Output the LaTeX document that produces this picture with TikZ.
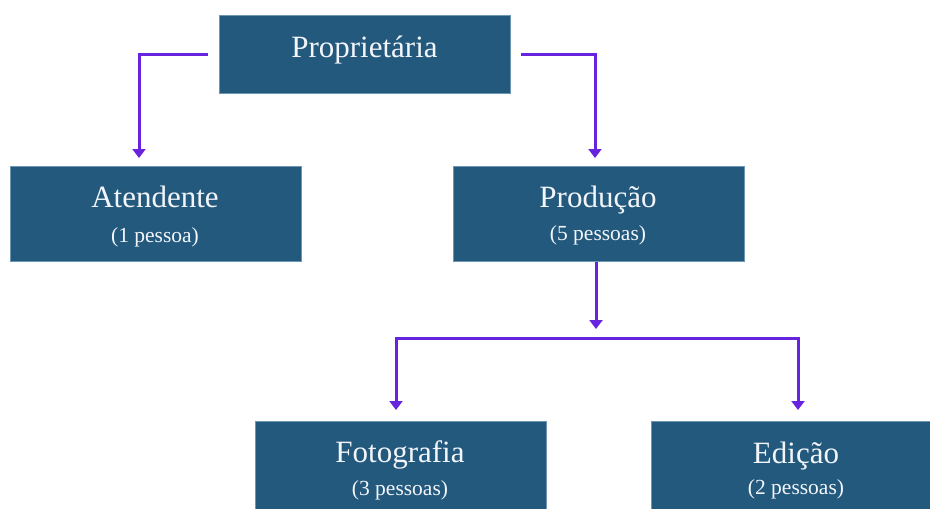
\documentclass[tikz,border=0pt]{standalone}
\usepackage{fontspec}
\setmainfont{Liberation Serif}
\usetikzlibrary{arrows.meta}
\definecolor{boxblue}{RGB}{36,89,126}
\definecolor{boxedge}{RGB}{110,150,178}
\definecolor{linkpurple}{RGB}{103,35,222}
\definecolor{labelwhite}{RGB}{242,246,250}
\begin{document}
\begin{tikzpicture}[x=1pt,y=-1pt,
  orgbox/.style={draw=boxedge,line width=0.6pt,fill=boxblue,rectangle,inner sep=0pt},
  titletext/.style={text=labelwhite,anchor=base,font=\fontsize{31}{33}\selectfont,inner sep=0pt},
  subtext/.style={text=labelwhite,anchor=base,font=\fontsize{21.5}{23}\selectfont,inner sep=0pt},
  link/.style={draw=linkpurple,line width=3pt,-{Triangle[width=13pt,length=9pt]}},
  biglink/.style={draw=linkpurple,line width=3pt,{Triangle[width=13pt,length=9pt]}-{Triangle[width=13pt,length=9pt]}}
]
\useasboundingbox (0,0) rectangle (930,509);
\fill[white] (0,0) rectangle (930,509);

% boxes
\node[orgbox,minimum width=291pt,minimum height=78pt] (prop) at (364.5,54) {};
\node[orgbox,minimum width=291pt,minimum height=95pt] (ate) at (155.5,214) {};
\node[orgbox,minimum width=291pt,minimum height=95pt] (prod) at (598.5,214) {};
\node[orgbox,minimum width=291pt,minimum height=95pt] (foto) at (400.5,468.5) {};
\node[orgbox,minimum width=290pt,minimum height=95pt] (edit) at (796,468.5) {};

% labels
\node[titletext] (propT) at (364.5,57) {Proprietária};
\node[titletext] (ateT) at (155,207) {Atendente};
\node[subtext] (ateS) at (155,242) {(1 pessoa)};
\node[titletext] (prodT) at (598,207) {Produção};
\node[subtext] (prodS) at (598,240) {(5 pessoas)};
\node[titletext] (fotoT) at (400,462) {Fotografia};
\node[subtext] (fotoS) at (400,495) {(3 pessoas)};
\node[titletext] (editT) at (796,463) {Edição};
\node[subtext] (editS) at (796,494) {(2 pessoas)};

% connector ends
\coordinate (ateIn) at (139,158);
\coordinate (prodIn) at (595,158);
\coordinate (prodOut) at (596,329);
\coordinate (split) at (596,338);
\coordinate (fotoIn) at (396,410);
\coordinate (editIn) at (798,410);

% connectors
\draw[link,shorten <=11pt] (prop.west) -| (ateIn);
\draw[link,shorten <=11pt] (prop.east) -| (prodIn);
\draw[link] (prod.south -| prodOut) -- (prodOut);
\draw[biglink] (fotoIn) |- (split) -| (editIn);
\end{tikzpicture}
\end{document}
